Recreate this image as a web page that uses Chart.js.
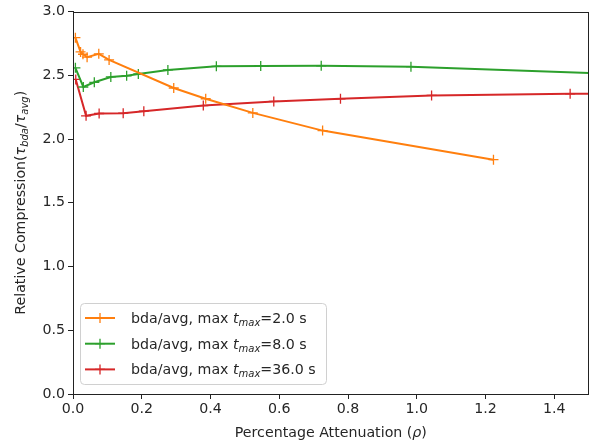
<!DOCTYPE html>
<html><head><meta charset="utf-8">
<script src="https://cdn.jsdelivr.net/npm/chart.js@4/dist/chart.umd.min.js"></script>
<style>html,body{margin:0;padding:0;background:#fff}#wrap{width:595px;height:448px;position:relative}</style>
</head><body><div id="wrap"><canvas id="c" width="595" height="448"></canvas></div>
<script>
const seriesLabels = ["2.0", "8.0", "36.0"];
const orangeX = [0.007, 0.022, 0.029, 0.041, 0.075, 0.105, 0.293, 0.386, 0.523, 0.726, 1.223];
const orangeY = [2.795, 2.683, 2.665, 2.642, 2.668, 2.62, 2.40, 2.316, 2.205, 2.066, 1.838];
const greenX = [0.007, 0.03, 0.062, 0.11, 0.156, 0.19, 0.276, 0.417, 0.546, 0.722, 0.983, 2.0];
const greenY = [2.558, 2.408, 2.445, 2.487, 2.496, 2.51, 2.542, 2.57, 2.572, 2.574, 2.567, 2.47];
const redX = [0.008, 0.038, 0.076, 0.146, 0.206, 0.379, 0.584, 0.778, 1.043, 1.446, 2.0];
const redY = [2.467, 2.182, 2.2, 2.203, 2.218, 2.262, 2.295, 2.316, 2.342, 2.355, 2.36];
const xTicks = [0.0, 0.2, 0.4, 0.6, 0.8, 1.0, 1.2, 1.4];
const yTicks = [0.0, 0.5, 1.0, 1.5, 2.0, 2.5, 3.0];
const colors = ["#ff7f0e", "#2ca02c", "#d62728"];

function pts(xs, ys){ return xs.map((x,i)=>({x:x, y:ys[i]})); }
const FONT = "DejaVu Sans";
const FS = 14.2;

function mkDs(xs, ys, i){
  return {label: seriesLabels[i], data: pts(xs, ys), borderColor: colors[i], backgroundColor: colors[i],
    showLine: true, borderWidth: 2, pointStyle: 'cross', pointRadius: 5, pointBorderWidth: 1.3,
    pointHoverRadius: 5, tension: 0};
}

function drawRich(ctx, segs, x, y, align){
  let total = 0;
  segs.forEach(s=>{ ctx.font = s.font; s.w = ctx.measureText(s.t).width; total += s.w; });
  let cx = align === 'center' ? x - total/2 : x;
  ctx.textBaseline = 'alphabetic'; ctx.textAlign = 'left';
  segs.forEach(s=>{ ctx.font = s.font; ctx.fillText(s.t, cx, y + (s.dy||0)); cx += s.w; });
}
const N = FS + "px '" + FONT + "'";
const I = "oblique " + FS + "px '" + FONT + "'";
const SI = "oblique 10px '" + FONT + "'";

const extras = {
  id: 'extras',
  afterDraw(chart){
    const ctx = chart.ctx, a = chart.chartArea;
    ctx.save();
    ctx.strokeStyle = '#222'; ctx.lineWidth = 1;
    ctx.strokeRect(Math.round(a.left)+0.5, Math.round(a.top)+0.5, Math.round(a.right-a.left)-1, Math.round(a.bottom-a.top));
    ctx.fillStyle = '#262626';
    drawRich(ctx, [{t:"Percentage Attenuation (", font:N}, {t:"\u03c1", font:I}, {t:")", font:N}], (a.left+a.right)/2, 437, 'center');
    ctx.save();
    ctx.translate(25, (a.top+a.bottom)/2);
    ctx.rotate(-Math.PI/2);
    drawRich(ctx, [{t:"Relative Compression(", font:N}, {t:"\u03c4", font:I}, {t:"bda", font:SI, dy:3},
      {t:"/", font:N}, {t:"\u03c4", font:I}, {t:"avg", font:SI, dy:3}, {t:")", font:N}], 0, 0, 'center');
    ctx.restore();
    const lx = 80.5, ly = 303.5, lw = 246, lh = 81, r = 4;
    ctx.beginPath();
    ctx.moveTo(lx+r, ly); ctx.lineTo(lx+lw-r, ly); ctx.quadraticCurveTo(lx+lw, ly, lx+lw, ly+r);
    ctx.lineTo(lx+lw, ly+lh-r); ctx.quadraticCurveTo(lx+lw, ly+lh, lx+lw-r, ly+lh);
    ctx.lineTo(lx+r, ly+lh); ctx.quadraticCurveTo(lx, ly+lh, lx, ly+lh-r);
    ctx.lineTo(lx, ly+r); ctx.quadraticCurveTo(lx, ly, lx+r, ly); ctx.closePath();
    ctx.fillStyle = 'rgba(255,255,255,0.8)'; ctx.fill();
    ctx.strokeStyle = '#d0d0d0'; ctx.lineWidth = 1; ctx.stroke();
    seriesLabels.forEach((lab, i)=>{
      const yy = 318 + i*25.7;
      ctx.strokeStyle = colors[i]; ctx.lineWidth = 2;
      ctx.beginPath(); ctx.moveTo(85, yy); ctx.lineTo(115, yy); ctx.stroke();
      ctx.lineWidth = 1.3;
      ctx.beginPath(); ctx.moveTo(100, yy-5); ctx.lineTo(100, yy+5); ctx.moveTo(95, yy); ctx.lineTo(105, yy); ctx.stroke();
      ctx.fillStyle = '#262626';
      drawRich(ctx, [{t:"bda/avg, max ", font:N}, {t:"t", font:I}, {t:"max", font:SI, dy:3}, {t:"=" + lab + " s", font:N}], 131, yy+5, 'left');
    });
    ctx.restore();
  }
};

new Chart(document.getElementById('c'), {
  type: 'scatter',
  data: { datasets: [mkDs(orangeX, orangeY, 0), mkDs(greenX, greenY, 1), mkDs(redX, redY, 2)] },
  options: {
    responsive: false, animation: false, devicePixelRatio: 1,
    layout: { padding: { top: 7, right: 5, left: 0, bottom: 0 } },
    plugins: { legend: { display: false }, tooltip: { enabled: false } },
    scales: {
      x: { type: 'linear', min: 0, max: 1.5,
        afterBuildTicks: s => { s.ticks = xTicks.map(v=>({value:v})); },
        afterFit: s => { s.height = 54; },
        ticks: { callback: v => v.toFixed(1), color: '#262626', font: { family: FONT, size: FS }, padding: 2, maxRotation: 0, autoSkip: false },
        grid: { display: true, drawOnChartArea: false, drawTicks: true, tickLength: 5, color: '#222', tickWidth: 1 },
        border: { display: true, color: '#222', width: 1 } },
      y: { type: 'linear', min: 0, max: 3,
        afterBuildTicks: s => { s.ticks = yTicks.map(v=>({value:v})); },
        afterFit: s => { s.width = 73; },
        ticks: { callback: v => v.toFixed(1), color: '#262626', font: { family: FONT, size: FS }, padding: 3 },
        grid: { display: true, drawOnChartArea: false, drawTicks: true, tickLength: 5, color: '#222', tickWidth: 1 },
        border: { display: true, color: '#222', width: 1 } }
    }
  },
  plugins: [extras]
});
</script></body></html>
